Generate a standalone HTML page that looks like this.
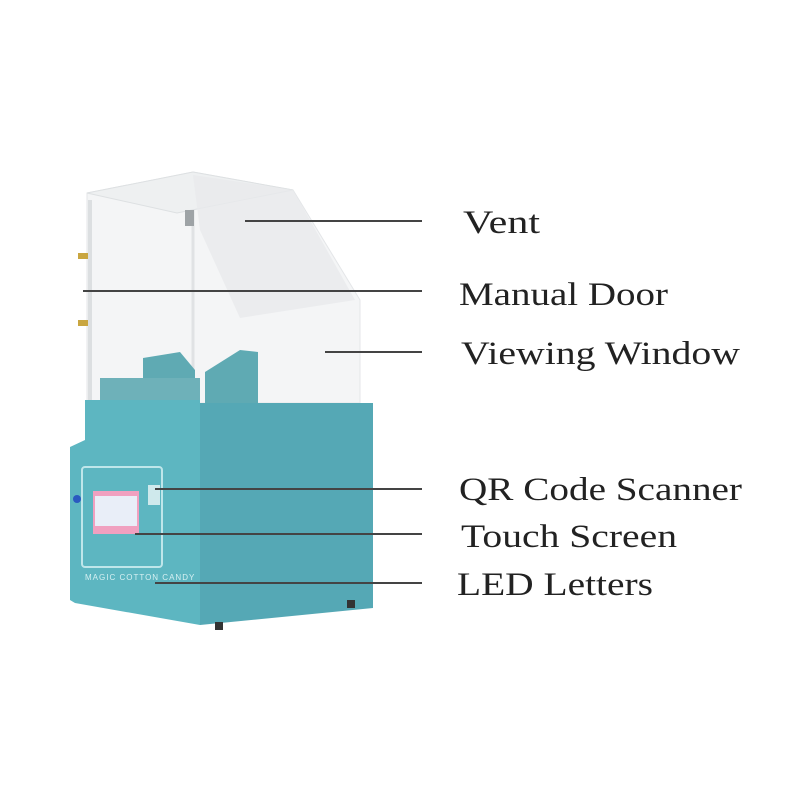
<!DOCTYPE html>
<html><head><meta charset="utf-8"><style>html,body{margin:0;padding:0;background:#fff}svg{display:block}</style></head>
<body>
<svg width="800" height="800" viewBox="0 0 800 800" xmlns="http://www.w3.org/2000/svg">
<polygon points="87,193 193,172 293,190 360,300 360,403 87,403" fill="#f4f5f6" stroke="#e4e6e8"/>
<polygon points="87,193 193,172 293,190 177,213" fill="#eef0f1" stroke="#dde0e2"/>
<polygon points="193,175 293,190 355,300 240,318 200,230" fill="#e8eaec" opacity="0.8"/>
<line x1="193" y1="210" x2="193" y2="403" stroke="#e0e2e4" stroke-width="3"/>
<line x1="90" y1="200" x2="90" y2="400" stroke="#dcdfe1" stroke-width="4"/>
<rect x="185" y="210" width="9" height="16" fill="#9ea3a6"/>
<rect x="78" y="253" width="10" height="6" fill="#c9a640"/>
<rect x="78" y="320" width="10" height="6" fill="#c9a640"/>
<polygon points="143,358 180,352 195,370 195,403 143,403" fill="#5faab3"/>
<polygon points="205,372 240,350 258,352 258,403 205,403" fill="#5faab3"/>
<rect x="100" y="378" width="100" height="25" fill="#6eb1b9"/>
<polygon points="200,403 373,403 373,608 200,625" fill="#55a8b5"/>
<polygon points="85,400 200,400 200,625 75,603 70,600 70,447 85,440" fill="#5db6c1"/>
<rect x="82" y="467" width="80" height="100" rx="3" fill="none" stroke="#bfe6ea" stroke-width="2"/>
<rect x="93" y="491" width="46" height="43" fill="#f0a0c0"/>
<rect x="95" y="496" width="42" height="30" fill="#e9eef8"/>
<rect x="148" y="485" width="12" height="20" fill="#cfe9ec"/>
<circle cx="77" cy="499" r="4" fill="#2a5ac0"/>
<text x="85" y="580" font-family="Liberation Sans,sans-serif" font-size="8" fill="#d6f0f2" letter-spacing="1">MAGIC COTTON CANDY</text>
<rect x="215" y="622" width="8" height="8" fill="#333"/>
<rect x="347" y="600" width="8" height="8" fill="#333"/>
<g stroke="#444" stroke-width="2">
<line x1="245" y1="221" x2="422" y2="221"/>
<line x1="83" y1="291" x2="422" y2="291"/>
<line x1="325" y1="352" x2="422" y2="352"/>
<line x1="155" y1="489" x2="422" y2="489"/>
<line x1="135" y1="534" x2="422" y2="534"/>
<line x1="155" y1="583" x2="422" y2="583"/>
</g>
<g font-family="Liberation Serif,serif" font-size="33" fill="#222" lengthAdjust="spacingAndGlyphs">
<text x="463" y="233" textLength="77" lengthAdjust="spacingAndGlyphs">Vent</text>
<text x="459" y="305" textLength="209" lengthAdjust="spacingAndGlyphs">Manual Door</text>
<text x="461" y="364" textLength="279" lengthAdjust="spacingAndGlyphs">Viewing Window</text>
<text x="459" y="500" textLength="283" lengthAdjust="spacingAndGlyphs">QR Code Scanner</text>
<text x="461" y="547" textLength="216" lengthAdjust="spacingAndGlyphs">Touch Screen</text>
<text x="457" y="595" textLength="196" lengthAdjust="spacingAndGlyphs">LED Letters</text>
</g>
</svg>
</body></html>
